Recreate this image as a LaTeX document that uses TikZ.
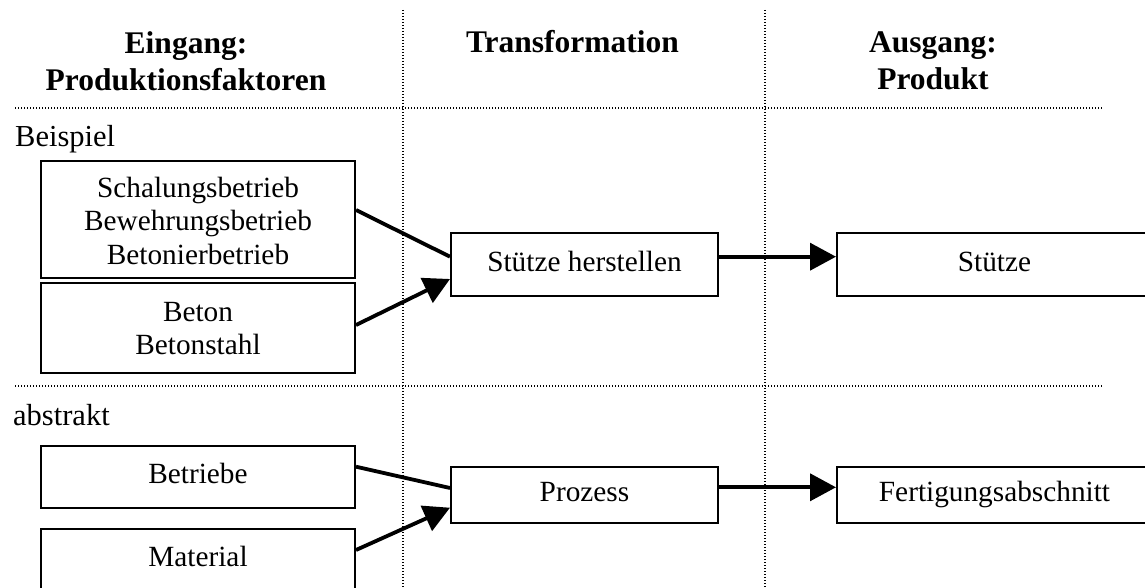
\documentclass[tikz,border=0pt]{standalone}
\usepackage{fontspec}
\setmainfont{Liberation Serif}
\usetikzlibrary{arrows.meta,calc}
\begin{document}
\begin{tikzpicture}[x=1pt,y=-1pt,
  box/.style={draw,line width=2pt,align=center,inner sep=0pt,
    font=\fontsize{29.3}{33.5}\selectfont},
  oneline/.style={text height=20pt,text depth=7pt},
  grid/.style={line width=1.2pt,dash pattern=on 1.2pt off 1.8pt},
  head/.style={font=\fontsize{31.5}{37}\selectfont\bfseries,align=center,
    inner sep=0pt,anchor=base},
  lbl/.style={font=\fontsize{30.5}{36}\selectfont,inner sep=0pt,anchor=base west},
  link/.style={line width=3.8pt},
  flow/.style={link,-{Triangle[length=26pt,width=27pt]}}]

% page frame
\useasboundingbox (0,0) rectangle (1145,588);
\clip (0,0) rectangle (1145,588);
\fill[white] (0,0) rectangle (1145,588);

% dotted column and row separators
\draw[grid] (403,10) -- (403,588);
\draw[grid] (765,10) -- (765,588);
\draw[grid] (15,108) -- (1103,108);
\draw[grid] (15,386) -- (1103,386);

% column headings (base anchor sits on the last line)
\node[head] (hin) at (186,90.5) {Eingang:\\Produktionsfaktoren};
\node[head] (htr) at (572.5,52.5) {Transformation};
\node[head] (hout) at (933,89.5) {Ausgang:\\Produkt};

% row labels
\node[lbl] (lex) at (15,147) {Beispiel};
\node[lbl] (labs) at (13,425) {abstrakt};

% example row
\node[box,minimum width=314pt,minimum height=117pt] (a) at (198,219.3)
  {\strut Schalungsbetrieb\\Bewehrungsbetrieb\\Betonierbetrieb};
\node[box,minimum width=314pt,minimum height=90pt] (b) at (198,328.3)
  {Beton\\Betonstahl};
\node[box,oneline,minimum width=267pt,minimum height=63pt] (sh) at (584.5,264.7)
  {Stütze herstellen};
\node[box,oneline,minimum width=315pt,minimum height=63pt] (s) at (994.5,264.7)
  {Stütze};

% abstract row
\node[box,oneline,minimum width=314pt,minimum height=62pt] (be) at (198,477)
  {Betriebe};
\node[box,oneline,minimum width=314pt,minimum height=62pt] (ma) at (198,560)
  {Material};
\node[box,oneline,minimum width=267pt,minimum height=56pt] (pr) at (584.5,494.5)
  {Prozess};
\node[box,oneline,minimum width=315pt,minimum height=56pt] (fa) at (994.5,494.5)
  {Fertigungsabschnitt};

% connectors
\draw[link] ($(a.east)+(0,-9.3)$) -- ($(sh.west)+(0,-8)$);
\draw[flow] ($(b.east)+(0,-3.3)$) -- ($(sh.west)+(0,14.3)$);
\draw[flow] ($(sh.east)+(0,-8)$) -- ($(s.west)+(0,-8)$);
\draw[link] ($(be.east)+(0,-10.3)$) -- ($(pr.west)+(0,-6.5)$);
\draw[flow] ($(ma.east)+(0,-10)$) -- ($(pr.west)+(0,13.2)$);
\draw[flow] ($(pr.east)+(0,-7.2)$) -- ($(fa.west)+(0,-7.2)$);
\end{tikzpicture}
\end{document}
